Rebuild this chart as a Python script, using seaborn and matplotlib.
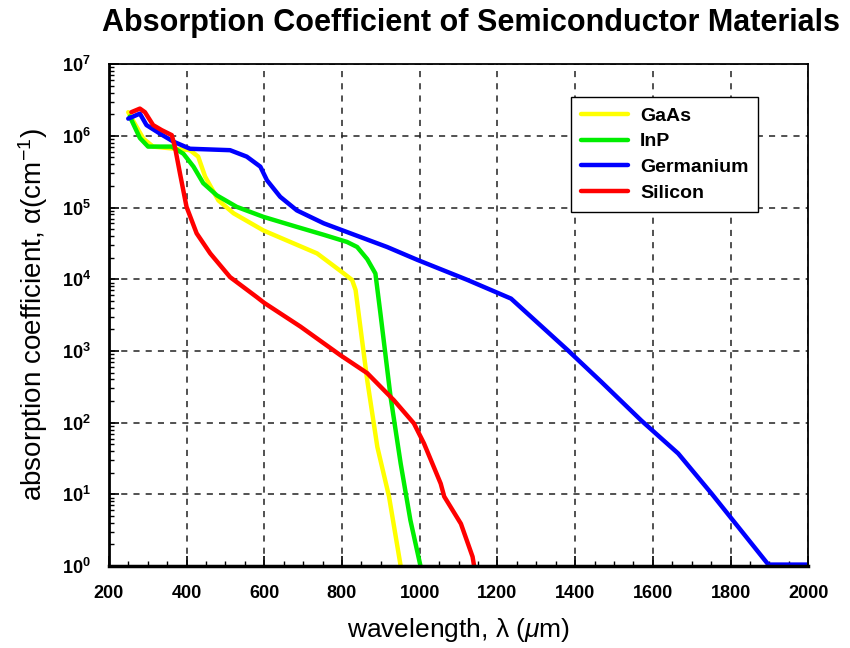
import numpy as np
import pandas as pd
import seaborn as sns
import matplotlib
matplotlib.use("Agg")
import matplotlib.pyplot as plt
from matplotlib.ticker import MultipleLocator, LogLocator, FixedLocator, NullFormatter

# ---- data (wavelength as on the chart, log10 of alpha) ----
gaas_x = [250, 289, 314, 409, 430, 448, 482, 521, 598, 667, 736, 800, 826, 835, 865, 891, 921, 951]
gaas_log = [6.33, 5.96, 5.85, 5.80, 5.71, 5.43, 5.10, 4.92, 4.68, 4.52, 4.36, 4.10, 3.99, 3.85, 2.59, 1.66, 0.97, 0.0]

inp_x = [254, 280, 301, 362, 392, 418, 443, 478, 529, 598, 684, 753, 813, 839, 865, 886, 899, 925, 951, 976, 1002]
inp_log = [6.27, 5.97, 5.85, 5.85, 5.75, 5.57, 5.34, 5.17, 5.01, 4.87, 4.73, 4.62, 4.52, 4.45, 4.28, 4.08, 3.52, 2.36, 1.43, 0.64, 0.0]

ge_x = [250, 280, 297, 332, 366, 409, 512, 555, 590, 607, 641, 684, 753, 822, 916, 994, 1123, 1235,
        1381, 1467, 1570, 1665, 1751, 1897, 2000]
ge_log = [6.24, 6.31, 6.15, 6.03, 5.92, 5.82, 5.80, 5.71, 5.57, 5.38, 5.15, 4.96, 4.78, 4.64, 4.45, 4.27,
          3.99, 3.73, 3.01, 2.57, 2.03, 1.57, 1.01, 0.02, 0.02]

si_x = [258, 280, 293, 314, 336, 362, 370, 383, 400, 426, 461, 512, 581, 600, 693, 796, 865, 934, 985,
        1011, 1054, 1063, 1106, 1136, 1140]
si_log = [6.33, 6.38, 6.33, 6.15, 6.08, 6.01, 5.85, 5.48, 5.01, 4.64, 4.36, 4.03, 3.75, 3.67, 3.34, 2.94,
          2.69, 2.31, 1.99, 1.71, 1.15, 0.97, 0.59, 0.13, 0.0]

materials = ["GaAs", "InP", "Germanium", "Silicon"]
colors = ["#FFFF00", "#00EE00", "#0000FF", "#FF0000"]
y_exponents = [0, 1, 2, 3, 4, 5, 6, 7]

frames = []
for name, xs, ls in zip(materials, [gaas_x, inp_x, ge_x, si_x], [gaas_log, inp_log, ge_log, si_log]):
    frames.append(pd.DataFrame({"wavelength": xs, "alpha": 10.0 ** np.array(ls), "material": name}))
df = pd.concat(frames, ignore_index=True)

sns.set_theme(style="white")
fam = ["Liberation Sans", "DejaVu Sans"]
plt.rcParams["font.family"] = fam
plt.rcParams["text.color"] = "black"
plt.rcParams["axes.labelcolor"] = "black"
plt.rcParams["xtick.color"] = "black"
plt.rcParams["ytick.color"] = "black"
plt.rcParams["mathtext.fontset"] = "custom"
plt.rcParams["mathtext.rm"] = "Liberation Sans"
plt.rcParams["mathtext.bf"] = "Liberation Sans:bold"
plt.rcParams["mathtext.it"] = "Liberation Sans:italic"

fig = plt.figure(figsize=(8.5, 6.48), dpi=100)
ax = fig.add_axes([0.128, 0.1265, 0.823, 0.7745])

sns.lineplot(data=df, x="wavelength", y="alpha", hue="material", hue_order=materials,
             palette=colors, estimator=None, sort=False, linewidth=3.2, ax=ax)

ax.set_yscale("log")
ax.set_xlim(200, 2000)
ax.set_ylim(1, 1e7)

ax.xaxis.set_major_locator(MultipleLocator(200))
ax.xaxis.set_minor_locator(MultipleLocator(50))
ax.yaxis.set_major_locator(FixedLocator([10.0 ** k for k in y_exponents]))
ax.yaxis.set_minor_locator(LogLocator(base=10, subs=np.arange(2, 10), numticks=20))
ax.yaxis.set_minor_formatter(NullFormatter())
ax.set_yticklabels([r"$\mathbf{10^{%d}}$" % k for k in y_exponents])
for lab in ax.get_xticklabels():
    lab.set_fontweight("bold")

ax.tick_params(axis="both", which="major", direction="in", length=7, width=1.2,
               labelsize=13, colors="black")
ax.tick_params(axis="x", which="major", pad=14)
ax.tick_params(axis="y", which="major", pad=13)
ax.tick_params(axis="both", which="minor", direction="in", length=3.5, width=1.0)
ax.tick_params(axis="x", which="both", bottom=True, top=False)
ax.tick_params(axis="y", which="both", left=True, right=False)

ax.grid(True, which="major", linestyle=(0, (4, 4)), color="#222222", linewidth=1.1)
for s in ax.spines.values():
    s.set_color("black")
    s.set_linewidth(1.3)
ax.spines["bottom"].set_linewidth(2.5)
ax.spines["left"].set_linewidth(2.0)

ax.set_xlabel(r"wavelength, λ ($\mu$m)", fontsize=19, labelpad=10)
ax.set_ylabel(r"absorption coefficient, α(cm$^{-1}$)", fontsize=20, labelpad=8)
ax.set_title("Absorption Coefficient of Semiconductor Materials", fontsize=22, fontweight="bold",
             pad=24, x=0.518)

leg = ax.legend(loc="upper left", bbox_to_anchor=(0.661, 0.934), frameon=True, fancybox=False,
                edgecolor="black", prop={"weight": "bold", "size": 14, "family": fam}, handlelength=2.4,
                borderpad=0.5, labelspacing=0.42, handletextpad=0.65, borderaxespad=0)
leg.get_frame().set_linewidth(1.0)
leg.get_frame().set_alpha(1.0)
for line in leg.get_lines():
    line.set_linewidth(3.2)

fig.savefig("out.png", dpi=100)
